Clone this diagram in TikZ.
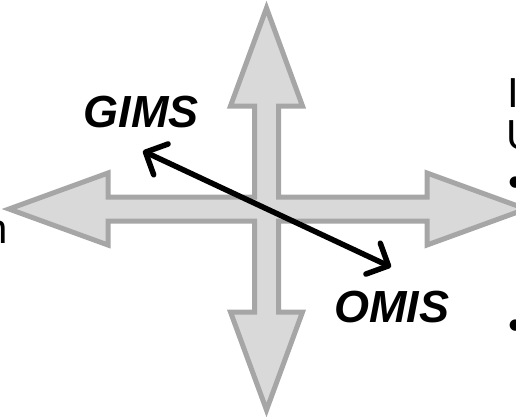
\documentclass[tikz,border=0pt]{standalone}
\usepackage{fontspec}
\setsansfont{Liberation Sans}
\usetikzlibrary{arrows.meta}

\begin{document}
\begin{tikzpicture}[
    x=1pt, y=-1pt,
    font=\sffamily,
    crossArrow/.style={
        draw=black!35, fill=black!15, line width=5pt, line join=miter
    },
    linkArrow/.style={
        {Straight Barb[length=17pt, width=34pt, round]}-{Straight Barb[length=17pt, width=34pt, round]},
        line width=5.5pt, draw=black
    },
    systemLabel/.style={
        font=\sffamily\bfseries\itshape\fontsize{45}{50}\selectfont, inner sep=0pt
    },
    sideText/.style={
        font=\sffamily\fontsize{42}{48}\selectfont, inner sep=0pt
    }
]
\useasboundingbox (0,0) rectangle (516,416);
\clip (0,0) rectangle (516,416);

% Four-way arrow
\draw[crossArrow]
    (266.5,8) -- (302.5,106) -- (278.5,106) -- (278.5,197)
    -- (427,197) -- (427,173) -- (526,209) -- (427,245) -- (427,221)
    -- (278.5,221) -- (278.5,312) -- (302.5,312) -- (266.5,410)
    -- (230.5,312) -- (254.5,312) -- (254.5,221)
    -- (108,221) -- (108,245) -- (9,209) -- (108,173) -- (108,197)
    -- (254.5,197) -- (254.5,106) -- (230.5,106) -- cycle;

% Nodes
\node[systemLabel] (gims) at (141,112) {GIMS};
\node[systemLabel] (omis) at (392,307) {OMIS};

\node[sideText, anchor=base west] (lineI) at (507,107) {I};
\node[sideText, anchor=base west] (lineU) at (506,149) {U};
\node[sideText, anchor=base west] (bulletA) at (508,196) {•};
\node[sideText, anchor=base west] (bulletB) at (508,339) {•};
\node[sideText, anchor=base east] (leftN) at (8,243) {n};

% Link
\coordinate (gimsEnd) at (143,151);
\coordinate (omisEnd) at (391,267);
\draw[linkArrow] (gimsEnd) -- (omisEnd);

\end{tikzpicture}
\end{document}
